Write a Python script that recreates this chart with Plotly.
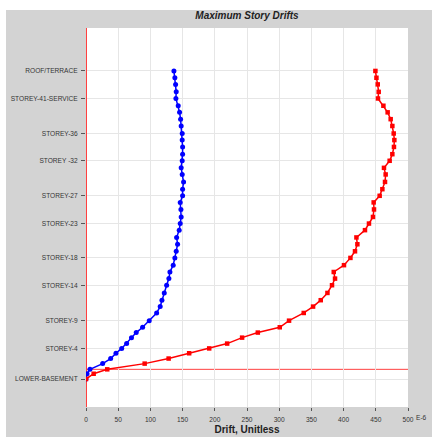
import plotly.graph_objects as go

# Story elevations (m), from roof (top) to lower basement (bottom)
elevations = [135.5, 132.4, 129.4, 126.0, 123.0, 119.7, 116.7, 113.6, 110.5, 107.1,
              104.1, 101.0, 97.7, 94.7, 91.5, 88.5, 85.1, 81.8, 78.8, 75.8,
              72.6, 69.2, 66.2, 63.2, 59.9, 56.8, 53.6, 50.6, 47.3, 44.2,
              41.2, 38.2, 34.7, 31.4, 28.5, 25.6, 22.1, 19.1, 16.7, 14.4,
              11.7, 9.5, 7.3, 4.9, 2.6, 0.0, -2.0, -4.4]

# Drift (E-6), blue series
drift_blue = [136.5, 138, 139.1, 140.1, 139.6, 143.2, 145.3, 146.9, 147.8, 149.4,
              149.4, 150, 150, 149.4, 147.8, 149.4, 151.5, 150, 150, 146.3,
              147.4, 147.8, 146.3, 144.7, 140.7, 142.2, 140.1, 138, 135.4, 130.3,
              128.7, 125.2, 121.5, 117.9, 115.2, 109.7, 98.2, 87.9, 78, 70.6,
              63.1, 55.4, 46.5, 38.3, 25.9, 6.2, 1.6, 0]

# Drift (E-6), red series
drift_red = [449.4, 451, 453, 454.5, 453.4, 461.8, 468.4, 473.1, 475.7, 477.8,
             478.8, 478.2, 475.7, 471.5, 462.7, 465.3, 464.3, 460.2, 456, 446.7,
             447.2, 445.6, 439.4, 433.2, 419.9, 421.4, 417.7, 410.6, 400.6, 384.7,
             386.7, 382, 374.9, 364.5, 352.6, 338.1, 315.3, 300.9, 266.8, 242.4,
             219.2, 191.3, 160.2, 128.3, 91.1, 33, 11.9, 0]

# Labelled stories
tick_elev = [135.5, 123.0, 107.1, 94.7, 78.8, 66.2, 50.6, 38.2, 22.1, 9.5, -4.4]
tick_text = ["ROOF/TERRACE", "STOREY-41-SERVICE", "STOREY-36", "STOREY -32",
             "STOREY-27", "STOREY-23", "STOREY-18", "STOREY-14", "STOREY-9",
             "STOREY-4", "LOWER-BASEMENT"]

x_ticks = [0, 50, 100, 150, 200, 250, 300, 350, 400, 450, 500]

fig = go.Figure()
fig.add_trace(go.Scatter(
    x=drift_blue, y=elevations, mode="lines+markers",
    line=dict(color="#0000ff", width=1.5),
    marker=dict(color="#0000ff", size=5, symbol="circle"),
    showlegend=False))
fig.add_trace(go.Scatter(
    x=drift_red, y=elevations, mode="lines+markers",
    line=dict(color="#ff0000", width=1.5),
    marker=dict(color="#ff0000", size=4.5, symbol="square"),
    showlegend=False))

PW, PH = 322, 379
fig.update_layout(
    template="none",
    width=432, height=437,
    margin=dict(l=86, r=24, t=28, b=30, pad=0),
    paper_bgcolor="#d3d3d3",
    plot_bgcolor="white",
    font=dict(family="Liberation Sans, Arial, sans-serif", size=6.6, color="#333333"),
    title=dict(text="<b><i>Maximum Story Drifts</i></b>", x=0.5, xref="paper",
               xanchor="center", y=1, yref="container", yanchor="top", pad=dict(t=12),
               font=dict(size=10, color="#222222")),
    shapes=[
        dict(type="rect", xref="paper", yref="paper", layer="above",
             x0=-100 / PW, x1=1 + 40 / PW, y0=1 + 18 / PH, y1=1 + 40 / PH,
             fillcolor="white", line=dict(width=0)),
        dict(type="rect", xref="paper", yref="paper", layer="above",
             x0=-100 / PW, x1=-80 / PW, y0=-40 / PH, y1=1 + 40 / PH,
             fillcolor="white", line=dict(width=0)),
        # zero-elevation reference line
        dict(type="line", xref="paper", x0=0, x1=1, yref="y", y0=0, y1=0,
             layer="below", line=dict(color="#ff4040", width=1)),
    ],
    annotations=[dict(text="E-6", xref="paper", yref="paper", x=1, y=0,
                      xanchor="left", yanchor="top", xshift=6, yshift=-5,
                      showarrow=False, font=dict(size=6.6, color="#333333"))],
)
fig.update_xaxes(
    automargin=False,
    range=[0, 500], tickvals=x_ticks, showgrid=True, gridcolor="#e6e6e6", gridwidth=1,
    zeroline=True, zerolinecolor="#ff4040", zerolinewidth=1,
    ticks="outside", ticklen=3, tickcolor="#555555", showline=False,
    ticklabelstandoff=3,
    title=dict(text="<b>Drift, Unitless</b>", font=dict(size=10, color="#222222"),
               standoff=4))
fig.update_yaxes(
    automargin=False,
    range=[-17.1, 155], tickvals=tick_elev, ticktext=tick_text,
    showgrid=True, gridcolor="#e6e6e6", gridwidth=1,
    zeroline=False,
    ticks="outside", ticklen=4, tickcolor="#555555", showline=False,
    ticklabelstandoff=2)

fig.write_html("out.html")
